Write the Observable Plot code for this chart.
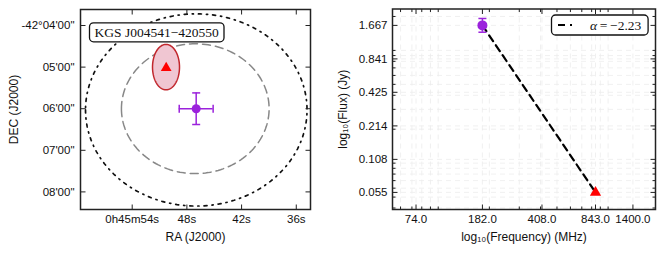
<!DOCTYPE html>
<html><head><meta charset="utf-8">
<script src="https://cdn.jsdelivr.net/npm/d3@7"></script>
<script src="https://cdn.jsdelivr.net/npm/@observablehq/plot@0.6"></script>
<style>
body{margin:0;background:#fff;}
#wrap{display:flex;width:664px;height:254px;}
svg{font-family:"Liberation Sans",Arial,sans-serif;}
</style></head><body><div id="wrap"></div>
<script>
// ---------- left panel data ----------
const raTicks = [54, 48, 42, 36];
const raTickLabels = ["0h45m54s", "48s", "42s", "36s"];
const decTicks = [4, 5, 6, 7, 8];
const decTickLabels = ["-42°04'00\"", "05'00\"", "06'00\"", "07'00\"", "08'00\""];
const sourceName = ["KGS J004541\u2212420550"];
const radioRA = [46.98];
const radioDec = [6.0];
const radioRAErr = [1.86];
const radioDecErr = [0.38];
const optRA = [50.27];
const optDec = [5.02];
const ellipseNames = ["search", "beam", "host"];
const ellipseRA = [46.97, 47.08, 50.29];
const ellipseDec = [6.03, 6.00, 5.00];
const ellipseA = [12.15, 8.10, 1.48];   // RA semi-axis (s)
const ellipseB = [2.31, 1.56, 0.546];   // Dec semi-axis (arcmin)

// ---------- right panel data ----------
const freqTicks = [74, 182, 408, 843, 1400];
const freqMinor = [60, 70, 80, 90, 100, 200, 300, 400, 500, 600, 700, 800, 900, 1000];
const fluxTicks = [0.055, 0.108, 0.214, 0.425, 0.841, 1.667];
const fluxMinor = [0.04, 0.05, 0.06, 0.07, 0.08, 0.09, 0.1, 0.2, 0.3, 0.4, 0.5, 0.6, 0.7, 0.8, 0.9, 1, 2];
const sedFreq = [182];
const sedFlux = [1.667];
const sedFluxLo = [1.45];
const sedFluxHi = [1.92];
const sedOptFreq = [843];
const sedOptFlux = [0.055];
const fitFreq = [182, 843];
const fitFlux = [1.667, 0.055];
const alphaValue = "\u22122.23";

const purple = "#9b22dc";
const red = "#ff0000";
const font = "'Liberation Sans', Arial, sans-serif";
const serif = "'Liberation Serif', 'DejaVu Serif', serif";

const seg = (x1, y1, x2, y2) => ({draw(c) { c.moveTo(x1, y1); c.lineTo(x2, y2); }});
const tUp = seg(0, 0, 0, -5), tDown = seg(0, 0, 0, 5), tRight = seg(0, 0, 5, 0), tLeft = seg(0, 0, -5, 0);
const mUp = seg(0, 0, 0, -3), mDown = seg(0, 0, 0, 3), mRight = seg(0, 0, 3, 0), mLeft = seg(0, 0, -3, 0);
const hCap = seg(-4, 0, 4, 0), vCap = seg(0, -4, 0, 4);

function ellipsePts(i) {
  const step = Math.PI / 90;
  return d3.range(0, 2 * Math.PI + step / 2, step).map(t => ({
    ra: ellipseRA[i] + ellipseA[i] * Math.cos(t),
    dec: ellipseDec[i] + ellipseB[i] * Math.sin(t)
  }));
}
const radio = radioRA.map((r, i) => ({ra: r, dec: radioDec[i], e1: radioRAErr[i], e2: radioDecErr[i]}));
const opt = optRA.map((r, i) => ({ra: r, dec: optDec[i]}));

const tickMarks = (xs, ys, major) => {
  const [u, d, r, l] = major ? [tUp, tDown, tRight, tLeft] : [mUp, mDown, mRight, mLeft];
  const o = {fill: "none", stroke: "#222", strokeWidth: 1};
  return [
    Plot.dot(xs, {x: v => v, frameAnchor: "bottom", symbol: u, ...o}),
    Plot.dot(xs, {x: v => v, frameAnchor: "top", symbol: d, ...o}),
    Plot.dot(ys, {y: v => v, frameAnchor: "left", symbol: r, ...o}),
    Plot.dot(ys, {y: v => v, frameAnchor: "right", symbol: l, ...o})
  ];
};

const left = Plot.plot({
  width: 330, height: 254,
  marginLeft: 80, marginRight: 20, marginTop: 9, marginBottom: 45,
  style: {fontFamily: font, color: "#111", background: "white", overflow: "visible"},
  x: {domain: [59.67, 34.44]},
  y: {domain: [8.423, 3.615]},
  marks: [
    Plot.line(ellipsePts(0), {x: "ra", y: "dec", stroke: "#111", strokeWidth: 1.7, strokeDasharray: "3,5,1.2,5"}),
    Plot.line(ellipsePts(1), {x: "ra", y: "dec", stroke: "#888", strokeWidth: 1.5, strokeDasharray: "8,5"}),
    Plot.line(ellipsePts(2), {x: "ra", y: "dec", fill: "#f0c6d2", stroke: "#c1272d", strokeWidth: 1.5}),
    Plot.ruleY(radio, {y: "dec", x1: d => d.ra - d.e1, x2: d => d.ra + d.e1, stroke: purple, strokeWidth: 1.5}),
    Plot.ruleX(radio, {x: "ra", y1: d => d.dec - d.e2, y2: d => d.dec + d.e2, stroke: purple, strokeWidth: 1.5}),
    Plot.dot(radio, {x: d => d.ra - d.e1, y: "dec", symbol: vCap, fill: "none", stroke: purple, strokeWidth: 1.5}),
    Plot.dot(radio, {x: d => d.ra + d.e1, y: "dec", symbol: vCap, fill: "none", stroke: purple, strokeWidth: 1.5}),
    Plot.dot(radio, {x: "ra", y: d => d.dec - d.e2, symbol: hCap, fill: "none", stroke: purple, strokeWidth: 1.5}),
    Plot.dot(radio, {x: "ra", y: d => d.dec + d.e2, symbol: hCap, fill: "none", stroke: purple, strokeWidth: 1.5}),
    Plot.dot(radio, {x: "ra", y: "dec", r: 4.5, fill: purple}),
    Plot.dot(opt, {x: "ra", y: "dec", symbol: "triangle", r: 4, fill: red}),
    Plot.text(sourceName, {frameAnchor: "top-left", dx: 14, dy: 23, textAnchor: "start", lineAnchor: "middle", fontFamily: serif, fontSize: 13.5, fill: "#111"}),
    Plot.axisX({ticks: raTicks, tickFormat: v => raTickLabels[raTicks.indexOf(v)], tickSize: 0, tickPadding: 5, label: null, fontSize: 11.5}),
    Plot.axisY({ticks: decTicks, tickFormat: v => decTickLabels[decTicks.indexOf(v)], tickSize: 0, tickPadding: 6, label: null, fontSize: 11.5}),
    ...tickMarks(raTicks, decTicks, true),
    Plot.frame({stroke: "#222", strokeWidth: 1.5}),
    Plot.text(["RA (J2000)"], {frameAnchor: "bottom", dy: 28, textAnchor: "middle", lineAnchor: "middle", fontSize: 12}),
    Plot.text(["DEC (J2000)"], {frameAnchor: "left", dx: -66, rotate: -90, textAnchor: "middle", lineAnchor: "middle", fontSize: 12})
  ]
});

const sedRadio = sedFreq.map((f, i) => ({f, s: sedFlux[i], lo: sedFluxLo[i], hi: sedFluxHi[i]}));
const sedOpt = sedOptFreq.map((f, i) => ({f, s: sedOptFlux[i]}));
const fit = fitFreq.map((f, i) => ({f, s: fitFlux[i]}));
const gridStyle = {stroke: "#ececec", strokeWidth: 0.8, strokeDasharray: "5,4"};

const right = Plot.plot({
  width: 334, height: 254,
  marginLeft: 62, marginRight: 9, marginTop: 8.5, marginBottom: 45,
  style: {fontFamily: font, color: "#111", background: "white", overflow: "visible"},
  x: {type: "log", domain: [53.8, 1901], axis: null},
  y: {type: "log", domain: [0.0388, 2.33], axis: null},
  marks: [
    Plot.ruleX(freqMinor.concat(freqTicks), {x: v => v, ...gridStyle}),
    Plot.ruleY(fluxMinor.concat(fluxTicks), {y: v => v, ...gridStyle}),
    Plot.line(fit, {x: "f", y: "s", stroke: "#000", strokeWidth: 2.2, strokeDasharray: "7,5"}),
    Plot.ruleX(sedRadio, {x: "f", y1: "lo", y2: "hi", stroke: purple, strokeWidth: 1.5}),
    Plot.dot(sedRadio, {x: "f", y: "lo", symbol: hCap, fill: "none", stroke: purple, strokeWidth: 1.5}),
    Plot.dot(sedRadio, {x: "f", y: "hi", symbol: hCap, fill: "none", stroke: purple, strokeWidth: 1.5}),
    Plot.dot(sedRadio, {x: "f", y: "s", r: 5, fill: purple}),
    Plot.dot(sedOpt, {x: "f", y: "s", symbol: "triangle", r: 4.2, fill: red}),
    Plot.text(freqTicks, {x: v => v, frameAnchor: "bottom", dy: 5, lineAnchor: "top", textAnchor: "middle", text: v => v.toFixed(1), fontSize: 11.5}),
    Plot.text(fluxTicks, {y: v => v, frameAnchor: "left", dx: -5, lineAnchor: "middle", textAnchor: "end", text: v => v.toFixed(3), fontSize: 11.5}),
    ...tickMarks(freqTicks, fluxTicks, true),
    ...tickMarks(freqMinor, fluxMinor, false),
    Plot.frame({stroke: "#222", strokeWidth: 1.5}),
    Plot.text(["log\u2081\u2080(Frequency) (MHz)"], {frameAnchor: "bottom", dy: 28, textAnchor: "middle", lineAnchor: "middle", fontSize: 12}),
    Plot.text(["log\u2081\u2080(Flux) (Jy)"], {frameAnchor: "left", dx: -49, rotate: -90, textAnchor: "middle", lineAnchor: "middle", fontSize: 12})
  ]
});

const wrap = document.getElementById("wrap");
wrap.appendChild(left);
wrap.appendChild(right);

// box around source name
d3.select(left).selectAll("text").filter(function() { return this.textContent === sourceName[0]; }).each(function() {
  const b = this.getBBox();
  const rect = document.createElementNS("http://www.w3.org/2000/svg", "rect");
  d3.select(rect).attr("x", b.x - 5).attr("y", b.y - 2).attr("width", b.width + 10).attr("height", b.height + 4)
    .attr("rx", 4).attr("fill", "white").attr("stroke", "#111").attr("stroke-width", 1.3);
  if (this.getAttribute("transform")) rect.setAttribute("transform", this.getAttribute("transform"));
  this.parentNode.insertBefore(rect, this);
});

// legend in right panel
{
  const svg = d3.select(right);
  const fr = 334 - 9;
  const g = svg.append("g").attr("transform", `translate(${fr - 103.5},${8.5 + 6.5})`);
  g.append("rect").attr("width", 96.6).attr("height", 20).attr("rx", 4)
    .attr("fill", "white").attr("stroke", "#111").attr("stroke-width", 1.3);
  g.append("line").attr("x1", 6.5).attr("x2", 20.5).attr("y1", 10).attr("y2", 10)
    .attr("stroke", "#000").attr("stroke-width", 2.2).attr("stroke-dasharray", "7,5");
  const t = g.append("text").attr("x", 38.5).attr("y", 10).attr("dy", "0.35em")
    .attr("text-anchor", "start")
    .attr("font-family", serif).attr("font-size", 13.5).attr("fill", "#111");
  t.append("tspan").attr("font-style", "italic").text("\u03b1");
  t.append("tspan").text("\u2009=\u2009" + alphaValue);
}
</script></body></html>
